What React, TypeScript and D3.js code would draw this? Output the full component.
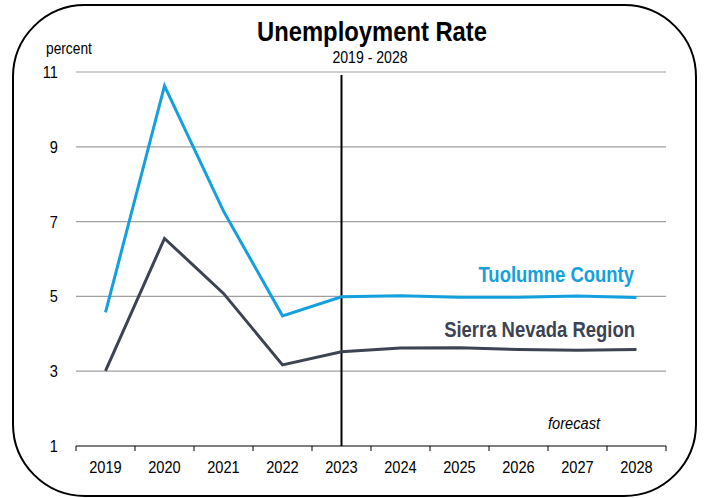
import React from "react";
import * as d3 from "d3";

const years = ["2019", "2020", "2021", "2022", "2023", "2024", "2025", "2026", "2027", "2028"];
const tuolumne = [4.57, 10.63, 7.28, 4.48, 4.99, 5.02, 4.98, 4.98, 5.01, 4.97];
const sierra = [3.01, 6.55, 5.08, 3.17, 3.52, 3.62, 3.63, 3.58, 3.56, 3.58];
const yTicks = [1, 3, 5, 7, 9, 11];
const forecastStart = "2023";

const W = 706;
const H = 498;
const sans = "'Liberation Sans', Arial, sans-serif";
const BLUE = "#14a0dd";
const DARK = "#3c4352";

type TProps = {
  x: number;
  y: number;
  sx?: number;
  size: number;
  anchor?: "start" | "middle" | "end";
  weight?: string;
  italic?: boolean;
  fill?: string;
  children: React.ReactNode;
};

function T({ x, y, sx = 0.86, size, anchor = "start", weight = "normal", italic = false, fill = "#000", children }: TProps) {
  return (
    <text
      transform={`translate(${x},${y}) scale(${sx},1)`}
      textAnchor={anchor}
      fontFamily={sans}
      fontSize={size}
      fontWeight={weight}
      fontStyle={italic ? "italic" : "normal"}
      fill={fill}
    >
      {children}
    </text>
  );
}

export default function App() {
  const x = d3.scaleBand<string>().domain(years).range([76, 666]);
  const y = d3.scaleLinear().domain([1, 11]).range([446, 72]);
  const cx = (d: string) => (x(d) as number) + x.bandwidth() / 2;
  const line = d3
    .line<number>()
    .x((_, i) => cx(years[i]))
    .y((v) => y(v));
  const boundaries = years.map((d) => x(d) as number).concat([x.range()[1]]);
  const fx = cx(forecastStart);

  return (
    <svg width={W} height={H} style={{ position: "absolute", left: 0, top: 0 }}>
      <rect x={0} y={0} width={W} height={H} fill="#fff" />
      <rect x={13} y={5} width={683} height={491} rx={72} ry={72} fill="none" stroke="#000" strokeWidth={2} />
      <T x={372} y={41} size={28} sx={0.85} anchor="middle" weight="bold">
        Unemployment Rate
      </T>
      <T x={370} y={63} size={16} sx={0.88} anchor="middle">
        2019 - 2028
      </T>
      <T x={46} y={54} size={16} sx={0.86}>
        percent
      </T>
      {yTicks.map((t) => (
        <g key={t}>
          {t !== 1 && <line x1={76} x2={666} y1={y(t)} y2={y(t)} stroke="#a0a0a0" strokeWidth={1.2} />}
          <T x={58} y={y(t) + 6} size={17} sx={0.86} anchor="end">
            {t}
          </T>
        </g>
      ))}
      <line x1={76} x2={666} y1={y(1)} y2={y(1)} stroke="#000" strokeWidth={1.2} />
      {boundaries.map((b, i) => (
        <line key={i} x1={b} x2={b} y1={y(1)} y2={y(1) + 5} stroke="#000" strokeWidth={1} />
      ))}
      {years.map((d) => (
        <T key={d} x={cx(d)} y={473} size={17} sx={0.86} anchor="middle">
          {d}
        </T>
      ))}
      <line x1={fx} x2={fx} y1={75} y2={y(1)} stroke="#000" strokeWidth={2} />
      <path d={line(sierra) || ""} fill="none" stroke={DARK} strokeWidth={3} strokeLinejoin="miter" />
      <path d={line(tuolumne) || ""} fill="none" stroke={BLUE} strokeWidth={3} strokeLinejoin="miter" />
      <T x={634} y={282} size={22} sx={0.84} anchor="end" weight="bold" fill={BLUE}>
        Tuolumne County
      </T>
      <T x={635} y={337} size={22} sx={0.84} anchor="end" weight="bold" fill={DARK}>
        Sierra Nevada Region
      </T>
      <T x={600} y={429} size={17} sx={0.86} anchor="end" italic>
        forecast
      </T>
    </svg>
  );
}
